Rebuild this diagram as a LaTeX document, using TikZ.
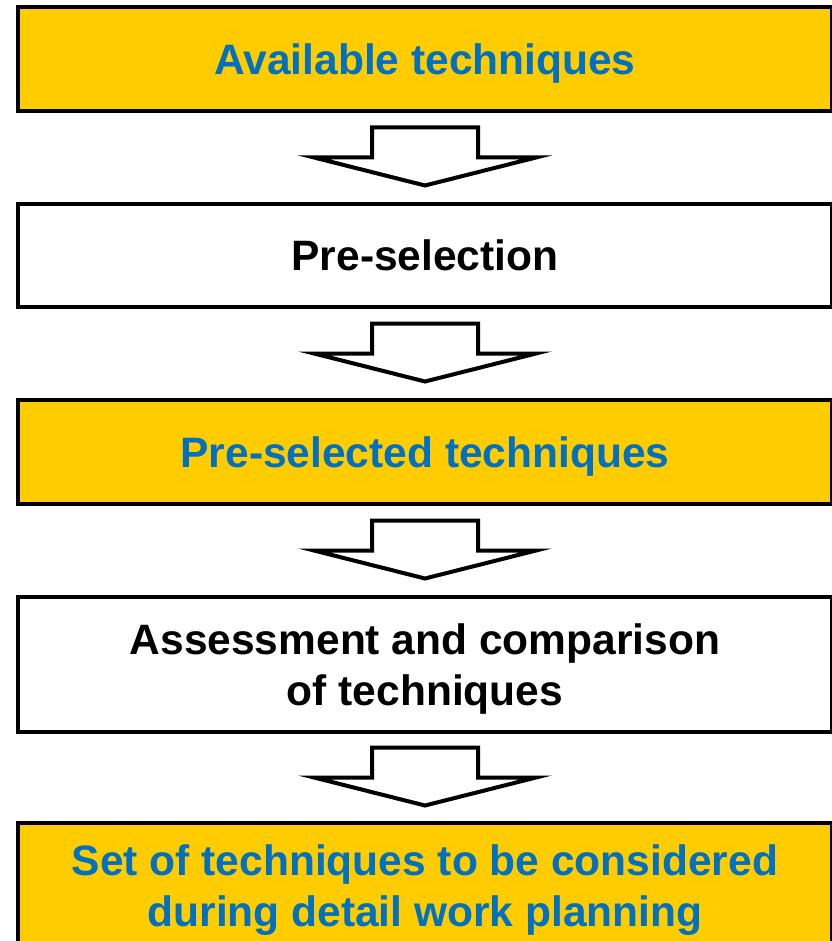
\documentclass[tikz,border=0pt]{standalone}
\usepackage{fontspec}
\setmainfont{Liberation Sans}
\usepackage{xcolor}
\usepackage{tikz}
\usetikzlibrary{positioning,calc}

\definecolor{boxyellow}{HTML}{FFCC00}
\definecolor{textblue}{HTML}{0070C0}

\begin{document}
\begin{tikzpicture}[
  x=1pt, y=1pt,
  node distance=93pt,
  tb/.style={draw, line width=4pt, minimum width=814pt, inner sep=0pt, outer sep=0pt, align=center,
    text depth=0pt, font=\bfseries\fontsize{42.5}{51}\selectfont},
  yb/.style={tb, fill=boxyellow, text=textblue},
  wb/.style={tb, fill=white},
  barr/.style={draw, line width=4pt, fill=white, line join=miter}
]
\useasboundingbox (0,0) rectangle (831,-941);

\node[yb, minimum height=104pt] (avail) at (425,-59) {Available techniques};

\node[wb, minimum height=103pt, below=of avail] (presel) {Pre-selection};

\node[yb, minimum height=104pt, below=of presel] (pretech) {Pre-selected techniques};

\node[wb, minimum height=135pt, below=of pretech] (assess) {Assessment and comparison\\ of techniques};

\node[yb, minimum height=126pt, below=91pt of assess] (final) {Set of techniques to be considered\\ during detail work planning};

% block arrows between the boxes
\draw[barr] ($(avail.south)!0.5!(presel.north)$) +(-53,30) -- +(53,30) -- +(53,0) -- +(111,0) -- +(0,-28) -- +(-111,0) -- +(-53,0) -- cycle;
\draw[barr] ($(presel.south)!0.5!(pretech.north)$) +(-53,30) -- +(53,30) -- +(53,0) -- +(111,0) -- +(0,-28) -- +(-111,0) -- +(-53,0) -- cycle;
\draw[barr] ($(pretech.south)!0.5!(assess.north)$) +(-53,30) -- +(53,30) -- +(53,0) -- +(111,0) -- +(0,-28) -- +(-111,0) -- +(-53,0) -- cycle;
\draw[barr] ($(assess.south)!0.5!(final.north)$) +(-53,30) -- +(53,30) -- +(53,0) -- +(111,0) -- +(0,-28) -- +(-111,0) -- +(-53,0) -- cycle;
\end{tikzpicture}
\end{document}
